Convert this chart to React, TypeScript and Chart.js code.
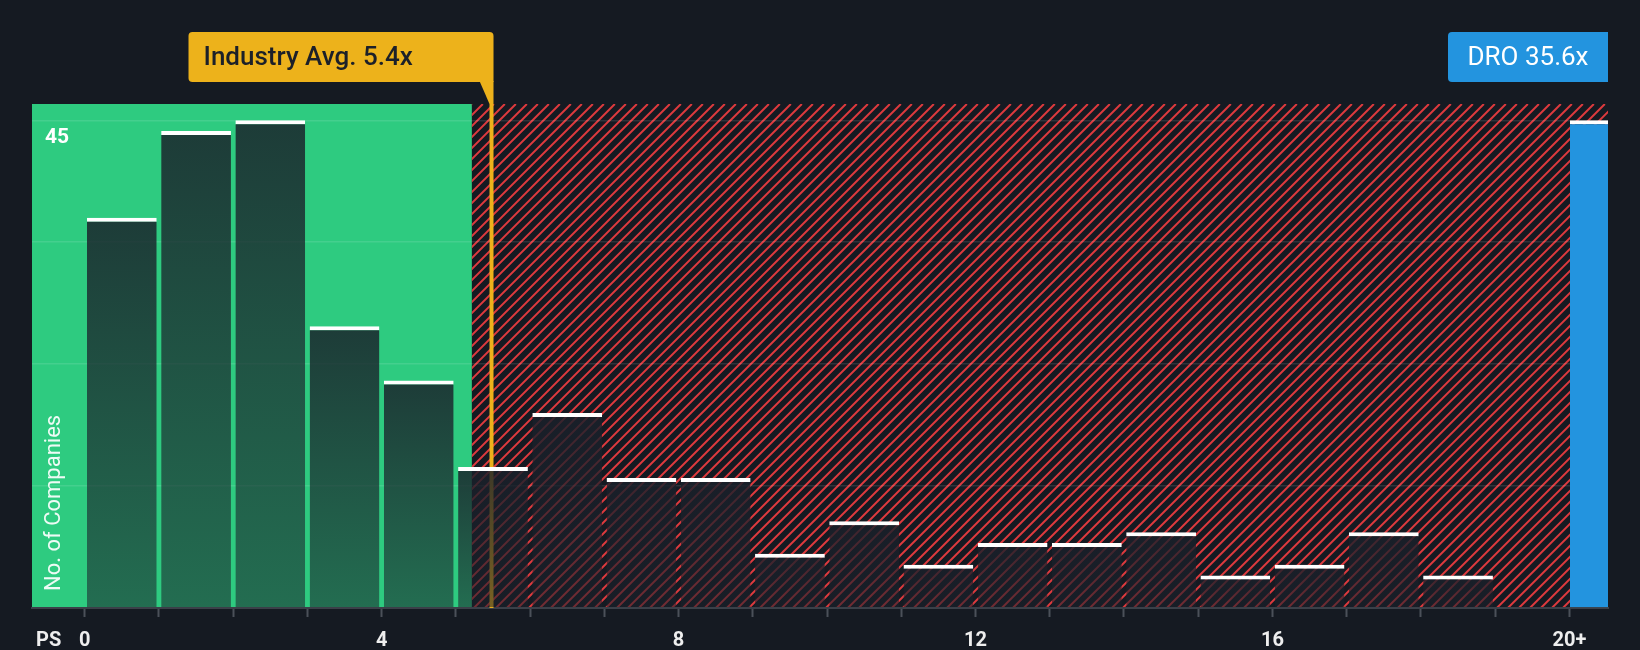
import React, { useEffect, useRef } from 'react';
import { Chart, registerables } from 'chart.js';

Chart.register(...registerables);

// ---- data ----
const BIN_STARTS = [0, 1, 2, 3, 4, 5, 6, 7, 8, 9, 10, 11, 12, 13, 14, 15, 16, 17, 18];
const COMPANY_COUNTS = [36, 44, 45, 26, 21, 13, 18, 12, 12, 5, 8, 4, 6, 6, 7, 3, 4, 7, 3];
const DRO_POSITION = 20.27;
const DRO_COUNT = 45;
const X_TICKS = [0, 1, 2, 3, 4, 5, 6, 7, 8, 9, 10, 11, 12, 13, 14, 15, 16, 17, 18, 19, 20];
const X_LABELED = [0, 4, 8, 12, 16];
const X_LAST_LABEL = '20+';
const Y_GRID = [0, 11.25, 22.5, 33.75, 45];
const Y_LABELED = [45];
const X_MIN = -0.71;
const X_MAX = 20.52;
const Y_MAX = 46.5;
const FAIR_ZONE_END = 5.215;
const INDUSTRY_AVG_LINE = 5.48;
const INDUSTRY_LABEL = 'Industry Avg. 5.4x';
const DRO_LABEL = 'DRO 35.6x';
const Y_TITLE = 'No. of Companies';
const X_TITLE = 'PS';

const BG = '#151a22';
const GREEN = '#2ecb80';
const RED = '#dd3a3e';
const YELLOW = '#edb21b';
const BLUE = '#2394df';
const FONT = 'Roboto';

function roundRect(ctx: CanvasRenderingContext2D, x: number, y: number, w: number, h: number, r: [number, number, number, number]) {
  const [tl, tr, br, bl] = r;
  ctx.beginPath();
  ctx.moveTo(x + tl, y);
  ctx.lineTo(x + w - tr, y);
  ctx.arcTo(x + w, y, x + w, y + tr, tr);
  ctx.lineTo(x + w, y + h - br);
  ctx.arcTo(x + w, y + h, x + w - br, y + h, br);
  ctx.lineTo(x + bl, y + h);
  ctx.arcTo(x, y + h, x, y + h - bl, bl);
  ctx.lineTo(x, y + tl);
  ctx.arcTo(x, y, x + tl, y, tl);
  ctx.closePath();
}

const decorPlugin = {
  id: 'decor',
  beforeDraw(chart: any) {
    const { ctx, chartArea, scales } = chart;
    const { left, top, right, bottom } = chartArea;
    ctx.save();
    ctx.fillStyle = BG;
    ctx.fillRect(0, 0, chart.width, chart.height);
    const xg = scales.x.getPixelForValue(FAIR_ZONE_END);
    ctx.fillStyle = GREEN;
    ctx.fillRect(left, top, xg - left, bottom - top);
    // hatched zone
    ctx.beginPath();
    ctx.rect(xg, top, right - xg, bottom - top);
    ctx.clip();
    const H = bottom - top;
    ctx.strokeStyle = RED;
    ctx.lineWidth = 2;
    ctx.beginPath();
    for (let xs = xg - H - 11; xs < right + 11; xs += 11) {
      ctx.moveTo(xs, bottom);
      ctx.lineTo(xs + H, top);
    }
    ctx.stroke();
    ctx.restore();
  },
  beforeDatasetsDraw(chart: any) {
    const { ctx, chartArea, scales } = chart;
    const xl = scales.x.getPixelForValue(INDUSTRY_AVG_LINE);
    ctx.save();
    ctx.fillStyle = YELLOW;
    ctx.fillRect(xl - 2, chartArea.top, 4, chartArea.bottom - chartArea.top);
    ctx.restore();
  },
  afterDraw(chart: any) {
    const { ctx, chartArea, scales } = chart;
    const { left, top, right, bottom } = chartArea;
    ctx.save();
    // industry label
    const xl = scales.x.getPixelForValue(INDUSTRY_AVG_LINE);
    const boxR = xl + 2;
    const boxL = boxR - 305;
    const boxT = 32;
    const boxB = 82;
    ctx.fillStyle = YELLOW;
    roundRect(ctx, boxL, boxT, boxR - boxL, boxB - boxT, [4, 4, 0, 4]);
    ctx.fill();
    ctx.beginPath();
    ctx.moveTo(boxR - 14, boxB - 1);
    ctx.lineTo(boxR, boxB - 1);
    ctx.lineTo(boxR, top);
    ctx.lineTo(boxR - 4, top);
    ctx.closePath();
    ctx.fill();
    ctx.fillStyle = '#1c2029';
    ctx.font = `500 26px ${FONT}`;
    ctx.textAlign = 'left';
    ctx.textBaseline = 'middle';
    ctx.fillText(INDUSTRY_LABEL, boxL + 15, (boxT + boxB) / 2 + 1);

    // DRO label
    const dL = right - 160;
    ctx.fillStyle = BLUE;
    roundRect(ctx, dL, boxT, right - dL, boxB - boxT, [4, 0, 0, 4]);
    ctx.fill();
    ctx.fillStyle = '#ffffff';
    ctx.font = `400 26px ${FONT}`;
    ctx.textAlign = 'center';
    ctx.fillText(DRO_LABEL, dL + 80, (boxT + boxB) / 2 + 1);

    // y title
    ctx.save();
    ctx.translate(left + 22, bottom - 17);
    ctx.rotate(-Math.PI / 2);
    ctx.textAlign = 'left';
    ctx.textBaseline = 'middle';
    ctx.font = `400 22px ${FONT}`;
    ctx.fillStyle = 'rgba(255,255,255,0.92)';
    ctx.fillText(Y_TITLE, 0, 0);
    ctx.restore();

    // x title
    ctx.font = `bold 20px ${FONT}`;
    ctx.fillStyle = '#eeeeee';
    ctx.textAlign = 'left';
    ctx.textBaseline = 'middle';
    ctx.fillText(X_TITLE, left + 4, 641);
    ctx.restore();
  },
};

function barGradient(c: any) {
  const chart = c.chart;
  const { chartArea, scales } = chart;
  if (!chartArea || !c.parsed) return 'rgba(26,32,42,0.8)';
  const yTop = scales.y.getPixelForValue(c.parsed.y);
  const yBot = scales.y.getPixelForValue(0);
  if (!isFinite(yTop) || yBot - yTop < 1) return 'rgba(26,32,42,0.8)';
  const g = chart.ctx.createLinearGradient(0, yTop, 0, yBot);
  g.addColorStop(0, 'rgba(26,32,42,0.84)');
  g.addColorStop(1, 'rgba(26,32,42,0.55)');
  return g;
}

export default function App() {
  const canvasRef = useRef<HTMLCanvasElement | null>(null);

  useEffect(() => {
    document.body.style.margin = '0';
    document.body.style.background = BG;
    const canvas = canvasRef.current;
    if (!canvas) return;
    const chart = new Chart(canvas, {
      type: 'bar',
      data: {
        datasets: [
          {
            label: 'Companies',
            data: BIN_STARTS.map((b, i) => ({ x: b + 0.5, y: COMPANY_COUNTS[i] })),
            backgroundColor: barGradient,
            borderColor: '#ffffff',
            borderWidth: { top: 4, right: 0, bottom: 0, left: 0 },
            borderSkipped: false,
            barPercentage: 0.94,
            categoryPercentage: 1,
            grouped: false,
          } as any,
          {
            label: 'DRO',
            data: [{ x: DRO_POSITION, y: DRO_COUNT }],
            backgroundColor: BLUE,
            borderColor: '#ffffff',
            borderWidth: { top: 4, right: 0, bottom: 0, left: 0 },
            borderSkipped: false,
            barPercentage: 0.525,
            categoryPercentage: 1,
            grouped: false,
          } as any,
        ],
      },
      options: {
        animation: false,
        responsive: true,
        maintainAspectRatio: false,
        layout: { padding: { left: 32, right: 32, top: 104, bottom: 0 } },
        plugins: {
          legend: { display: false },
          tooltip: { enabled: false },
        },
        scales: {
          x: {
            type: 'linear',
            offset: false,
            min: X_MIN,
            max: X_MAX,
            afterBuildTicks: (scale: any) => {
              scale.ticks = X_TICKS.map((v) => ({ value: v }));
            },
            afterFit: (scale: any) => {
              scale.height = 42;
            },
            grid: {
              offset: false,
              drawOnChartArea: false,
              drawTicks: true,
              tickLength: 9,
              tickColor: '#4b5059',
              tickWidth: 2,
            },
            border: { display: true, color: '#3b4049', width: 2 },
            ticks: {
              autoSkip: false,
              maxRotation: 0,
              padding: 12,
              color: '#eeeeee',
              font: { family: FONT, size: 20, weight: 'bold' },
              callback: (v: any) => {
                const n = Number(v);
                if (n === X_TICKS[X_TICKS.length - 1]) return X_LAST_LABEL;
                return X_LABELED.includes(n) ? String(n) : '';
              },
            },
          },
          y: {
            type: 'linear',
            min: 0,
            max: Y_MAX,
            afterBuildTicks: (scale: any) => {
              scale.ticks = Y_GRID.map((v) => ({ value: v }));
            },
            afterFit: (scale: any) => {
              scale.width = 0;
            },
            grid: {
              color: 'rgba(255,255,255,0.11)',
              lineWidth: 1.5,
              drawTicks: false,
            },
            border: { display: false },
            ticks: {
              mirror: true,
              padding: 13,
              labelOffset: 17,
              color: '#ffffff',
              font: { family: FONT, size: 21, weight: 'bold' },
              callback: (v: any) => (Y_LABELED.includes(Number(v)) ? String(v) : ''),
            },
          },
        },
      },
      plugins: [decorPlugin],
    });
    return () => chart.destroy();
  }, []);

  return (
    <div style={{ position: 'absolute', left: 0, top: 0, width: 1640, height: 650, background: BG }}>
      <canvas ref={canvasRef} />
    </div>
  );
}
